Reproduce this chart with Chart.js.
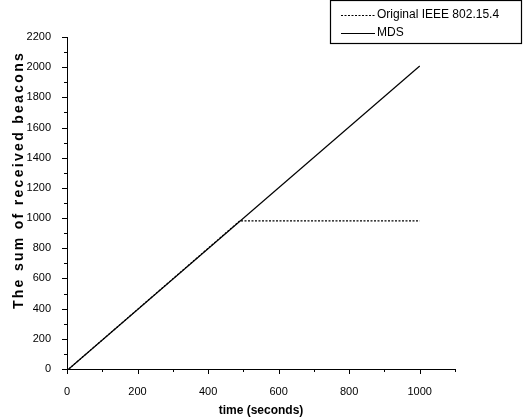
<!DOCTYPE html>
<html>
<head>
<meta charset="utf-8">
<script src="https://cdn.jsdelivr.net/npm/chart.js@4"></script>
<style>
  html, body { margin: 0; padding: 0; background: #fff; }
  #wrap { width: 523px; height: 420px; }
</style>
</head>
<body>
<div id="wrap"><canvas id="chart"></canvas></div>
<script>
// data
const seriesNames = ['Original IEEE 802.15.4', 'MDS']
const originalX = [5, 490, 1000]
const originalY = [0, 982, 982]
const mdsX = [5, 1000]
const mdsY = [0, 2008]

const pts = (xs, ys) => xs.map((x, i) => ({ x: x, y: ys[i] }))

// ticks outside the axes, major every 200, minor in between
const axisDecor = {
  id: 'axisDecor',
  afterDraw(chart) {
    const ctx = chart.ctx
    const xs = chart.scales.x, ys = chart.scales.y
    const a = chart.chartArea
    ctx.save()
    ctx.strokeStyle = '#000'
    ctx.lineWidth = 1
    for (let v = 0; v <= 1100; v += 100) {
      const px = Math.round(xs.getPixelForValue(v)) + 0.5
      const len = v % 200 === 0 ? 5 : 3
      ctx.beginPath(); ctx.moveTo(px, a.bottom); ctx.lineTo(px, a.bottom + len); ctx.stroke()
    }
    for (let v = 0; v <= 2200; v += 100) {
      const py = Math.round(ys.getPixelForValue(v)) + 0.5
      const len = v % 200 === 0 ? 5 : 3
      ctx.beginPath(); ctx.moveTo(a.left, py); ctx.lineTo(a.left - len, py); ctx.stroke()
    }

    // axis titles
    ctx.fillStyle = '#000'
    ctx.font = 'bold 12px "Liberation Sans", Arial'
    ctx.textAlign = 'center'
    ctx.textBaseline = 'middle'
    ctx.fillText('time (seconds)', (a.left + a.right) / 2, 411)

    ctx.save()
    ctx.translate(19, 180)
    ctx.rotate(-Math.PI / 2)
    ctx.font = 'bold 14px "Liberation Sans", Arial'
    ctx.letterSpacing = '2.3px'
    ctx.fillText('The sum of received beacons', 0, 0)
    ctx.restore()

    // legend box
    ctx.lineWidth = 1.2
    ctx.strokeRect(330.5, 0.5, 191, 43)
    ctx.font = '12px "Liberation Sans", Arial'
    ctx.textAlign = 'left'
    ctx.lineWidth = 1
    ctx.setLineDash([2, 1.5])
    ctx.beginPath(); ctx.moveTo(341, 15.5); ctx.lineTo(375, 15.5); ctx.stroke()
    ctx.setLineDash([])
    ctx.beginPath(); ctx.moveTo(341, 33.5); ctx.lineTo(375, 33.5); ctx.stroke()
    ctx.fillText(seriesNames[0], 377, 15)
    ctx.fillText(seriesNames[1], 377, 33)
    ctx.restore()
  }
}

new Chart(document.getElementById('chart'), {
  type: 'line',
  data: {
    datasets: [{
      label: seriesNames[0],
      data: pts(originalX, originalY),
      borderColor: '#000',
      borderWidth: 1.2,
      borderDash: [2, 1.5],
      pointRadius: 0,
      tension: 0
    }, {
      label: seriesNames[1],
      data: pts(mdsX, mdsY),
      borderColor: '#000',
      borderWidth: 1.2,
      pointRadius: 0,
      tension: 0
    }]
  },
  options: {
    responsive: true,
    maintainAspectRatio: false,
    animation: false,
    layout: { padding: { top: 37, right: 68, left: 0, bottom: 0 } },
    plugins: { legend: { display: false }, tooltip: { enabled: false } },
    scales: {
      x: {
        type: 'linear',
        min: 0,
        max: 1100,
        afterFit: s => { s.height = 51 },
        grid: { display: false },
        border: { color: '#000', width: 1 },
        ticks: {
          stepSize: 100,
          padding: 8,
          color: '#000',
          font: { family: '"Liberation Sans", Arial', size: 11 },
          maxRotation: 0,
          autoSkip: false,
          callback: v => (v % 200 === 0 && v <= 1000) ? v : ''
        }
      },
      y: {
        min: 0,
        max: 2200,
        afterFit: s => { s.width = 67 },
        grid: { display: false },
        border: { color: '#000', width: 1 },
        ticks: {
          stepSize: 100,
          padding: 8,
          color: '#000',
          font: { family: '"Liberation Sans", Arial', size: 11 },
          autoSkip: false,
          callback: v => v % 200 === 0 ? v : ''
        }
      }
    }
  },
  plugins: [axisDecor]
})
</script>
</body>
</html>
